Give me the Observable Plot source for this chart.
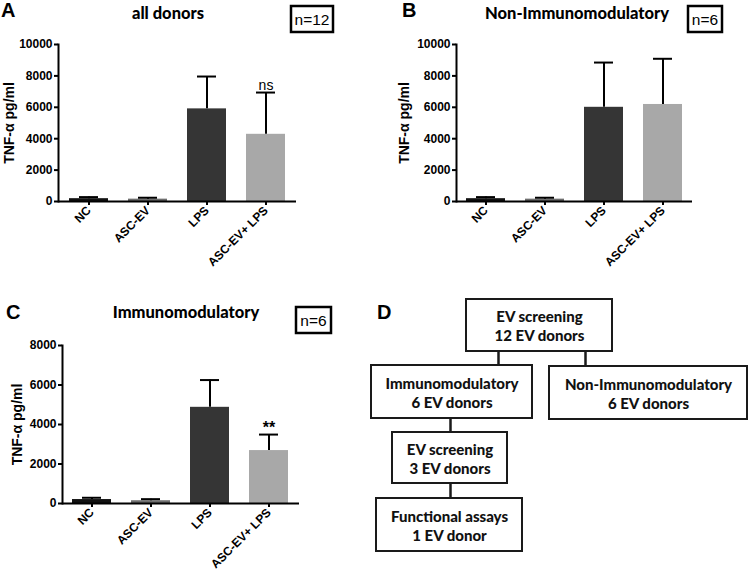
<!DOCTYPE html>
<html><head><meta charset="utf-8">
<script src="https://cdn.jsdelivr.net/npm/d3@7"></script>
<script src="https://cdn.jsdelivr.net/npm/@observablehq/plot@0.6"></script>
<style>
body{margin:0;background:#fff;}
#root{position:relative;width:749px;height:574px;overflow:hidden;background:#fff;}
#root > svg, #root > figure{position:absolute;margin:0;}
</style></head><body><div id="root"></div>
<script>
// ---------- data ----------
const categories = ["NC", "ASC-EV", "LPS", "ASC-EV+ LPS"];
const yTicks10k = [0, 2000, 4000, 6000, 8000, 10000];
const yTicks8k = [0, 2000, 4000, 6000, 8000];
const allDonorsMean = [180, 150, 5900, 4280];
const allDonorsErr = [100, 90, 2060, 2660];
const nonImmunoMean = [180, 150, 6000, 6180];
const nonImmunoErr = [100, 90, 2850, 2910];
const immunoMean = [200, 140, 4870, 2680];
const immunoErr = [90, 80, 1380, 810];
const panelLetters = ["A", "B", "C", "D"];
const panelTitles = ["all donors", "Non-Immunomodulatory", "Immunomodulatory"];
const sampleSizes = ["n=12", "n=6", "n=6"];
const sigA = [{cat: "ASC-EV+ LPS", label: "ns"}];
const sigC = [{cat: "ASC-EV+ LPS", label: "**"}];
const yLabel = "TNF-α pg/ml";
const flowText = ["EV screening\n12 EV donors", "Immunomodulatory\n6 EV donors",
  "Non-Immunomodulatory\n6 EV donors", "EV screening\n3 EV donors", "Functional assays\n1 EV donor"];
const flowLinks = [[0, 1], [0, 2], [1, 3], [3, 4]];
const barPalette = ["#111111", "#6e6e6e", "#353535", "#a8a8a8"];

// ---------- layout ----------
const root = document.getElementById("root");
const axisFont = "'Liberation Sans', Arial, sans-serif";
const titleFont = "Lato, 'Open Sans', sans-serif";

function barPanel(o) {
  const data = categories.map((c, i) => ({cat: c, mean: o.mean[i], top: o.mean[i] + o.err[i]}));
  const sig = o.sig.map(s => ({...s, top: data.find(d => d.cat === s.cat).top}));
  const p = Plot.plot({
    width: o.width, height: o.height,
    marginLeft: o.ml, marginRight: o.mr, marginTop: o.mt, marginBottom: o.mb,
    style: {fontFamily: axisFont, background: "transparent", color: "#000", overflow: "visible"},
    x: {domain: categories, paddingInner: 1 / 3, paddingOuter: 1 / 6},
    y: {domain: [0, o.yMax]},
    color: {domain: categories, range: barPalette},
    marks: [
      Plot.barY(data, {x: "cat", y: "mean", fill: "cat"}),
      Plot.ruleX(data, {x: "cat", y1: "mean", y2: "top", strokeWidth: 2, stroke: "#000"}),
      Plot.tickY(data, {x: "cat", y: "top", insetLeft: 10, insetRight: 10, strokeWidth: 2, stroke: "#000"}),
      Plot.axisY({ticks: o.ticks, tickSize: 4, tickPadding: 2, tickFormat: d => String(d),
        fontSize: 12, fontWeight: "bold", strokeWidth: 2, label: null}),
      Plot.axisX({tickSize: 4, tickPadding: 3, tickRotate: -45, fontSize: 12, fontWeight: "bold",
        strokeWidth: 2, label: null}),
      Plot.frame({anchor: "left", strokeWidth: 2}),
      Plot.ruleY([0], {strokeWidth: 2}),
      Plot.text([yLabel], {frameAnchor: "left", textAnchor: "middle", lineAnchor: "middle",
        dx: o.labelDx, rotate: -90, fontSize: 14, fontWeight: "bold"}),
      Plot.text(sig, {x: "cat", y: "top", text: "label", lineAnchor: "bottom", dy: o.sigDy,
        fontSize: o.sigSize, fontWeight: o.sigWeight, fill: "#000"})
    ]
  });
  p.style.left = o.left + "px";
  p.style.top = o.top + "px";
  root.appendChild(p);
}

barPanel({mean: allDonorsMean, err: allDonorsErr, left: 0, top: 0, width: 370, height: 280,
  ml: 58, mr: 74, mt: 44, mb: 79, yMax: 10000, ticks: yTicks10k, labelDx: -49,
  sig: sigA, sigSize: 14, sigWeight: "normal", sigDy: -3});
barPanel({mean: nonImmunoMean, err: nonImmunoErr, left: 370, top: 0, width: 379, height: 280,
  ml: 86, mr: 57, mt: 44, mb: 79, yMax: 10000, ticks: yTicks10k, labelDx: -52,
  sig: [], sigSize: 14, sigWeight: "normal", sigDy: -3});
barPanel({mean: immunoMean, err: immunoErr, left: 0, top: 280, width: 370, height: 294,
  ml: 62, mr: 71, mt: 65, mb: 71, yMax: 8000, ticks: yTicks8k, labelDx: -45,
  sig: sigC, sigSize: 16, sigWeight: "bold", sigDy: -2});

// flowchart (panel D), local pixel layout
const boxGeom = [
  {x1: 96, x2: 242, y1: 19, y2: 71},
  {x1: 1, x2: 162, y1: 85, y2: 138},
  {x1: 179, x2: 377, y1: 86, y2: 139},
  {x1: 22, x2: 137, y1: 152, y2: 203},
  {x1: 6, x2: 152, y1: 218, y2: 271}
];
const linkX = [128, 215, 80, 80];
const boxes = flowText.map((t, i) => ({text: t, ...boxGeom[i]}));
const links = flowLinks.map(([a, b], i) => ({x: linkX[i], y1: boxGeom[a].y2, y2: boxGeom[b].y1}));
const flow = Plot.plot({
  width: 379, height: 294, margin: 0,
  style: {fontFamily: titleFont, background: "transparent", color: "#000", overflow: "visible"},
  x: {domain: [0, 379], range: [0, 379], axis: null},
  y: {domain: [0, 294], range: [0, 294], axis: null},
  marks: [
    Plot.ruleX(links, {x: "x", y1: "y1", y2: "y2", strokeWidth: 2.5, stroke: "#1a1a1a"}),
    Plot.rect(boxes, {x1: "x1", x2: "x2", y1: "y1", y2: "y2", fill: "white", stroke: "#1a1a1a", strokeWidth: 2}),
    Plot.text(boxes, {x: d => (d.x1 + d.x2) / 2, y: d => (d.y1 + d.y2) / 2, text: "text",
      fontSize: 15, fontWeight: 900, lineHeight: 1.3, fill: "#111"})
  ]
});
flow.style.left = "370px";
flow.style.top = "280px";
root.appendChild(flow);

// overlay: panel letters, titles, sample-size boxes
const ov = d3.select(root).append("svg").attr("width", 749).attr("height", 574)
  .style("left", "0px").style("top", "0px").style("pointer-events", "none");
const letterPos = [[1, 17], [402, 17], [6, 319], [377, 319]];
panelLetters.forEach((l, i) => ov.append("text").attr("x", letterPos[i][0]).attr("y", letterPos[i][1])
  .attr("font-family", axisFont).attr("font-weight", "bold").attr("font-size", 20).text(l));
const titlePos = [[168, 19], [577, 19], [186, 318]];
panelTitles.forEach((t, i) => ov.append("text").attr("x", titlePos[i][0]).attr("y", titlePos[i][1])
  .attr("text-anchor", "middle").attr("font-family", titleFont).attr("font-weight", 900)
  .attr("font-size", 16.5).text(t));
const nBox = [[291, 6, 42, 26], [688, 6, 34, 26], [296, 307, 35, 26]];
sampleSizes.forEach((t, i) => {
  const [x, y, w, h] = nBox[i];
  ov.append("rect").attr("x", x).attr("y", y).attr("width", w).attr("height", h)
    .attr("fill", "white").attr("stroke", "#000").attr("stroke-width", 2.5);
  ov.append("text").attr("x", x + w / 2).attr("y", y + 19).attr("text-anchor", "middle")
    .attr("font-family", axisFont).attr("font-size", 15.5).text(t);
});
</script></body></html>
